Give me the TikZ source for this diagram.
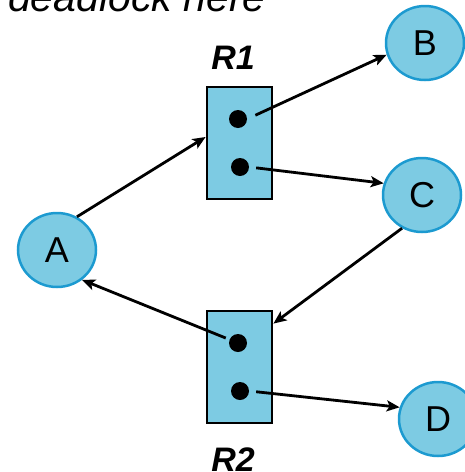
\documentclass[tikz,border=0pt]{standalone}
\usepackage{fontspec}
\setmainfont{Liberation Sans}
\usetikzlibrary{shapes.geometric,arrows.meta}
\definecolor{lblue}{HTML}{7DCBE3}
\definecolor{bblue}{HTML}{1C9AD0}
\tikzset{
  proc/.style={ellipse, draw=bblue, line width=2.5pt, fill=lblue, minimum width=78pt, minimum height=74pt, inner sep=0pt, font=\fontsize{36}{40}\selectfont},
  res/.style={rectangle, draw=black, line width=2.8pt, fill=lblue, minimum width=65pt, minimum height=112pt, inner sep=0pt},
  dot/.style={circle, fill=black, minimum size=18pt, inner sep=0pt},
  arr/.style={line width=2.8pt, -{Stealth[length=13pt,width=11pt,inset=3pt]}},
  rlabel/.style={font=\fontsize{34}{38}\selectfont\bfseries\itshape, inner sep=0pt, anchor=base}
}
\begin{document}
\begin{tikzpicture}[x=1pt,y=-1pt]
\useasboundingbox (0,0) rectangle (464,472);
\node[anchor=base west, inner sep=0pt, font=\fontsize{41}{48}\selectfont\itshape] (title) at (8,11) {deadlock here};
\node[proc] (A) at (57,250) {A};
\node[proc] (B) at (425,43) {B};
\node[proc] (C) at (422,195) {C};
\node[proc] (D) at (438,419) {D};
\node[res] (R1) at (239.5,143) {};
\node[res] (R2) at (239.5,367) {};
\node[dot] (d1) at (238,119) {};
\node[dot] (d2) at (240,167) {};
\node[dot] (e1) at (238,343) {};
\node[dot] (e2) at (240,391) {};
\node[rlabel] (l1) at (233,69) {R1};
\node[rlabel] (l2) at (233,471) {R2};
\draw[arr] (A.59) -- ([yshift=6pt]R1.west);
\draw[arr, shorten <=9pt] (d1.east) -- (B.197);
\draw[arr, shorten <=7pt] (d2.east) -- (C.163);
\draw[arr] (C.239) -- ([yshift=-14pt]R2.north east);
\draw[arr, shorten <=4pt] (e1) -- (A.310);
\draw[arr, shorten <=7pt] (e2.east) -- (D.163);
\end{tikzpicture}
\end{document}
